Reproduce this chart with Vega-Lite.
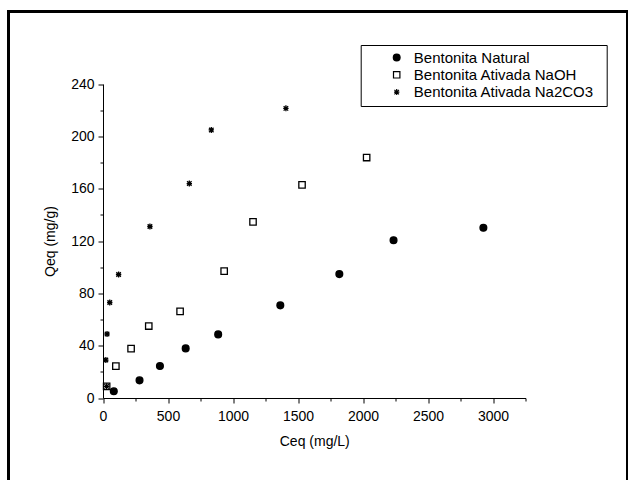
{
  "$schema": "https://vega.github.io/schema/vega-lite/v6.json",
  "width": 619,
  "height": 475,
  "autosize": {"type": "none"},
  "padding": {"left": 8.5, "top": 11.5, "right": 0, "bottom": 0},
  "background": "white",
  "config": {
    "view": {"stroke": "black", "strokeWidth": 3},
    "font": "Liberation Sans",
    "axis": {
      "grid": false,
      "domainColor": "black",
      "domainWidth": 1,
      "tickColor": "black",
      "tickWidth": 1,
      "labelColor": "black",
      "labelFontSize": 14,
      "labelFont": "Liberation Sans",
      "labelPadding": 4,
      "labelOverlap": false,
      "labelFlush": false,
      "titleColor": "black",
      "titleFont": "Liberation Sans",
      "titleFontSize": 14,
      "titleFontWeight": "normal"
    },
    "legend": {
      "orient": "none",
      "legendX": 352.2,
      "legendY": 33.5,
      "padding": 5,
      "strokeColor": "black",
      "labelFont": "Liberation Sans",
      "labelFontSize": 15,
      "labelColor": "black",
      "labelLimit": 400,
      "symbolOffset": 23.5,
      "labelOffset": 9.6,
      "rowPadding": 1.3,
      "symbolStrokeWidth": 1.2
    }
  },
  "data": {
    "values": [
      {"serie": "Bentonita Natural", "ceq": 83, "qeq": 5.1},
      {"serie": "Bentonita Natural", "ceq": 281, "qeq": 13.5},
      {"serie": "Bentonita Natural", "ceq": 438, "qeq": 24.4},
      {"serie": "Bentonita Natural", "ceq": 636, "qeq": 37.9},
      {"serie": "Bentonita Natural", "ceq": 886, "qeq": 48.6},
      {"serie": "Bentonita Natural", "ceq": 1364, "qeq": 70.8},
      {"serie": "Bentonita Natural", "ceq": 1818, "qeq": 94.7},
      {"serie": "Bentonita Natural", "ceq": 2235, "qeq": 120.6},
      {"serie": "Bentonita Natural", "ceq": 2926, "qeq": 130.1},
      {"serie": "Bentonita Ativada NaOH", "ceq": 28, "qeq": 8.9},
      {"serie": "Bentonita Ativada NaOH", "ceq": 99, "qeq": 24.4},
      {"serie": "Bentonita Ativada NaOH", "ceq": 216, "qeq": 37.7},
      {"serie": "Bentonita Ativada NaOH", "ceq": 352, "qeq": 55.0},
      {"serie": "Bentonita Ativada NaOH", "ceq": 593, "qeq": 66.2},
      {"serie": "Bentonita Ativada NaOH", "ceq": 932, "qeq": 97.0},
      {"serie": "Bentonita Ativada NaOH", "ceq": 1154, "qeq": 134.6},
      {"serie": "Bentonita Ativada NaOH", "ceq": 1531, "qeq": 162.9},
      {"serie": "Bentonita Ativada NaOH", "ceq": 2028, "qeq": 183.8},
      {"serie": "Bentonita Ativada Na2CO3", "ceq": 28, "qeq": 8.9},
      {"serie": "Bentonita Ativada Na2CO3", "ceq": 22, "qeq": 29.0},
      {"serie": "Bentonita Ativada Na2CO3", "ceq": 31, "qeq": 48.9},
      {"serie": "Bentonita Ativada Na2CO3", "ceq": 52, "qeq": 73.0},
      {"serie": "Bentonita Ativada Na2CO3", "ceq": 120, "qeq": 94.4},
      {"serie": "Bentonita Ativada Na2CO3", "ceq": 361, "qeq": 131.1},
      {"serie": "Bentonita Ativada Na2CO3", "ceq": 664, "qeq": 163.9},
      {"serie": "Bentonita Ativada Na2CO3", "ceq": 833, "qeq": 204.9},
      {"serie": "Bentonita Ativada Na2CO3", "ceq": 1407, "qeq": 221.4}
    ]
  },
  "mark": {"type": "point", "strokeWidth": 1.3, "opacity": 1},
  "encoding": {
    "x": {
      "field": "ceq",
      "type": "quantitative",
      "scale": {"domain": [0, 3250], "range": [94.5, 517], "nice": false, "zero": false},
      "axis": {
        "title": "Ceq (mg/L)",
        "values": [0, 250, 500, 750, 1000, 1250, 1500, 1750, 2000, 2250, 2500, 2750, 3000, 3250],
        "format": "d",
        "labelExpr": "datum.value % 500 === 0 ? datum.label : ''",
        "tickSize": {"condition": {"test": "datum.value % 500 === 0", "value": 5}, "value": 3},
        "offset": -88.5,
        "labelPadding": 6,
        "titlePadding": 11
      }
    },
    "y": {
      "field": "qeq",
      "type": "quantitative",
      "scale": {"domain": [0, 240], "range": [386.5, 72.5], "nice": false, "zero": false},
      "axis": {
        "title": "Qeq (mg/g)",
        "values": [0, 20, 40, 60, 80, 100, 120, 140, 160, 180, 200, 220, 240],
        "format": "d",
        "labelExpr": "datum.value % 40 === 0 ? datum.label : ''",
        "tickSize": {"condition": {"test": "datum.value % 40 === 0", "value": 5}, "value": 3},
        "offset": -94.5,
        "titlePadding": 13
      }
    },
    "shape": {
      "field": "serie",
      "type": "nominal",
      "scale": {
        "domain": ["Bentonita Natural", "Bentonita Ativada NaOH", "Bentonita Ativada Na2CO3"],
        "range": ["circle", "square", "M0,-1L0,1M-0.75,-0.75L0.75,0.75M-0.75,0.75L0.75,-0.75M-0.9,0L0.9,0"]
      },
      "legend": {"title": "\u00a0", "titleOrient": "right", "titleFontSize": 6, "titlePadding": 8}
    },
    "fill": {
      "field": "serie",
      "type": "nominal",
      "scale": {
        "domain": ["Bentonita Natural", "Bentonita Ativada NaOH", "Bentonita Ativada Na2CO3"],
        "range": ["black", "transparent", "transparent"]
      },
      "legend": {"title": "\u00a0", "titleOrient": "right", "titleFontSize": 6, "titlePadding": 8}
    },
    "stroke": {
      "field": "serie",
      "type": "nominal",
      "scale": {
        "domain": ["Bentonita Natural", "Bentonita Ativada NaOH", "Bentonita Ativada Na2CO3"],
        "range": ["black", "black", "black"]
      },
      "legend": {"title": "\u00a0", "titleOrient": "right", "titleFontSize": 6, "titlePadding": 8}
    },
    "size": {
      "field": "serie",
      "type": "nominal",
      "scale": {
        "domain": ["Bentonita Natural", "Bentonita Ativada NaOH", "Bentonita Ativada Na2CO3"],
        "range": [46, 36, 120]
      },
      "legend": {"title": "\u00a0", "titleOrient": "right", "titleFontSize": 6, "titlePadding": 8}
    }
  }
}
